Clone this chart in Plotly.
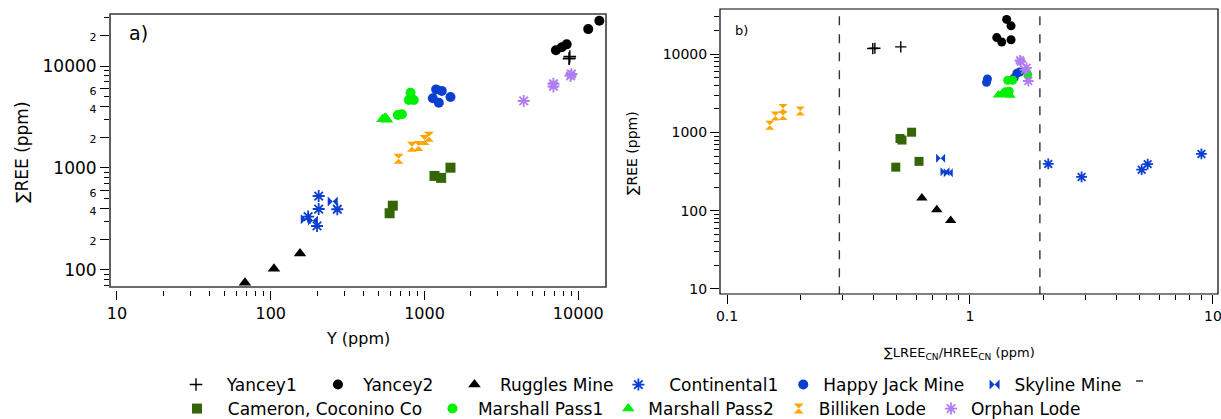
import plotly.graph_objects as go

# ---------------- data ----------------
# Y (ppm), sum REE (ppm), LREE_CN/HREE_CN ratio
yancey1_Y = [8700, 8800, 8750]
yancey1_REE = [11800, 12400, 11900]
yancey1_ratio = [0.398, 0.519, 0.406]

yancey2_Y = [13700, 11600, 8400, 7800, 7150]
yancey2_REE = [27800, 23000, 16300, 15300, 14300]
yancey2_ratio = [1.416, 1.476, 1.289, 1.476, 1.351]

ruggles_Y = [68, 105, 155]
ruggles_REE = [75, 103, 145]
ruggles_ratio = [0.833, 0.730, 0.634]

continental_Y = [205, 205, 271, 200, 175]
continental_REE = [531, 396, 394, 270, 334]
continental_ratio = [8.97, 2.10, 5.39, 2.88, 5.09]

happyjack_Y = [1190, 1295, 1132, 1239, 1475]
happyjack_REE = [5900, 5700, 4820, 4370, 4970]
happyjack_ratio = [1.60, 1.56, 1.18, 1.17, 1.52]

skyline_Y = [253, 169, 188]
skyline_REE = [468, 315, 305]
skyline_ratio = [0.757, 0.789, 0.814]

cameron_Y = [622, 593, 1161, 1283, 1475]
cameron_REE = [427, 360, 836, 800, 1007]
cameron_ratio = [0.617, 0.495, 0.515, 0.525, 0.575]

marshall1_Y = [811, 791, 852, 671, 713]
marshall1_REE = [5470, 4640, 4640, 3310, 3360]
marshall1_ratio = [1.73, 1.43, 1.50, 1.40, 1.45]

marshall2_Y = [533, 550, 560, 569]
marshall2_REE = [3000, 3070, 3100, 2980]
marshall2_ratio = [1.31, 1.35, 1.39, 1.46]

billiken_Y = [678, 828, 915, 1000, 1067]
billiken_REE = [1233, 1618, 1644, 1884, 2029]
billiken_ratio = [0.150, 0.158, 0.170, 0.200, 0.170]

orphan_Y = [4415, 6890, 6890, 8900, 9020]
orphan_REE = [4540, 6300, 6700, 8000, 8350]
orphan_ratio = [1.738, 1.683, 1.711, 1.620, 1.607]

boundary_ratios = [0.29, 1.94]

FONT = "DejaVu Sans"
BLUE = "#0a3fd0"
NB = "\u00a0"

# (name, Y, REE, ratio, marker, size, legend row, leading pad, trailing pad)
series = [
    ("Yancey1", yancey1_Y, yancey1_REE, yancey1_ratio,
     dict(symbol="cross-thin", color="black", line=dict(color="black", width=1.4)), 9, "legend", 2, 3),
    ("Yancey2", yancey2_Y, yancey2_REE, yancey2_ratio,
     dict(symbol="circle", color="black"), 10, "legend", 1, 3),
    ("Ruggles Mine", ruggles_Y, ruggles_REE, ruggles_ratio,
     dict(symbol="triangle-up", color="black"), 11, "legend", 1, 0),
    ("Continental1", continental_Y, continental_REE, continental_ratio,
     dict(symbol="asterisk", color=BLUE, line=dict(color=BLUE, width=1.8)), 10, "legend", 2, 0),
    ("Happy Jack Mine", happyjack_Y, happyjack_REE, happyjack_ratio,
     dict(symbol="circle", color=BLUE), 10, "legend", 0, 1),
    ("Skyline Mine", skyline_Y, skyline_REE, skyline_ratio,
     dict(symbol="bowtie", color=BLUE), 10, "legend", 0, 0),
    ("Cameron, Coconino Co", cameron_Y, cameron_REE, cameron_ratio,
     dict(symbol="square", color="#346608"), 10, "legend2", 2, 1),
    ("Marshall Pass1", marshall1_Y, marshall1_REE, marshall1_ratio,
     dict(symbol="circle", color="#00f000"), 10, "legend2", 1, 0),
    ("Marshall Pass2", marshall2_Y, marshall2_REE, marshall2_ratio,
     dict(symbol="triangle-up", color="#00f000"), 11, "legend2", 0, 0),
    ("Billiken Lode", billiken_Y, billiken_REE, billiken_ratio,
     dict(symbol="hourglass", color="#ffa500"), 10, "legend2", 0, 0),
    ("Orphan Lode", orphan_Y, orphan_REE, orphan_ratio,
     dict(symbol="asterisk", color="#b07ef0", line=dict(color="#b07ef0", width=1.8)), 10, "legend2", 0, 0),
]

fig = go.Figure()
for name, xv, yv, rv, mk, size, lg, lead, trail in series:
    m = dict(mk)
    m["size"] = size
    fig.add_trace(go.Scatter(x=xv, y=yv, mode="markers", name=NB * lead + name + NB * trail,
                             marker=m, legendgroup=name, legend=lg,
                             xaxis="x", yaxis="y", cliponaxis=False))
    m2 = dict(mk)
    m2["size"] = size - 1
    fig.add_trace(go.Scatter(x=rv, y=yv, mode="markers", name=name, marker=m2,
                             legendgroup=name, showlegend=False,
                             xaxis="x2", yaxis="y2"))

for r in boundary_ratios:
    fig.add_trace(go.Scatter(x=[r, r], y=[1, 1e6], mode="lines", showlegend=False,
                             line=dict(color="#333", width=1.4, dash="dash"),
                             xaxis="x2", yaxis="y2", hoverinfo="skip"))

W, H = 1221, 419
def px_x(p):
    return p / W
def px_y(p):
    return (H - p) / H

def minor_vals(decades, digits=range(2, 10)):
    out = []
    for d in decades:
        for k in digits:
            out.append(k * d)
    return out

small = lambda t: f'<span style="font-size:11px">{t}</span>'

ya_major = [100, 200, 400, 600, 1000, 2000, 4000, 6000, 10000, 20000]
ya_text = ["100", small("2"), small("4"), small("6"), "1000", small("2"), small("4"), small("6"), "10000", small("2")]
ya_minor = [70, 80, 90, 300, 500, 700, 800, 900, 3000, 5000, 7000, 8000, 9000, 30000]

tick_common = dict(type="log", ticks="outside", tickcolor="black", tickwidth=1,
                   showgrid=False, zeroline=False, showline=False,
                   ticklabeloverflow="allow")

LEG_FONT = dict(size=17, family=FONT)

fig.update_layout(
    width=W, height=H,
    margin=dict(l=0, r=0, t=0, b=0, autoexpand=False),
    paper_bgcolor="white", plot_bgcolor="white",
    font=dict(family=FONT, color="black"),
    xaxis=dict(**tick_common, domain=[px_x(110), px_x(606)], range=[0.955, 4.18],
               anchor="free", position=px_y(290),
               tickvals=[10, 100, 1000, 10000], ticktext=["10", "100", "1000", "10000"],
               ticklen=9, tickfont=dict(size=16),
               minor=dict(tickvals=minor_vals([10, 100, 1000]), ticklen=5, ticks="outside",
                          tickcolor="black", showgrid=False)),
    yaxis=dict(**tick_common, domain=[px_y(287), px_y(14)], range=[1.833, 4.51], anchor="x",
               tickvals=ya_major, ticktext=ya_text, ticklen=9, tickfont=dict(size=17),
               minor=dict(tickvals=ya_minor, ticklen=5, ticks="outside",
                          tickcolor="black", showgrid=False)),
    xaxis2=dict(**tick_common, domain=[px_x(720), px_x(1218)], range=[-1.029, 1.021], anchor="y2",
                tickvals=[0.1, 1, 10], ticktext=["0.1", "1", "10"], ticklen=9,
                tickfont=dict(size=14),
                minor=dict(tickvals=minor_vals([0.1, 1]), ticklen=5, ticks="outside",
                           tickcolor="black", showgrid=False)),
    yaxis2=dict(**tick_common, domain=[px_y(294), px_y(9)], range=[0.936, 4.577], anchor="x2",
                tickvals=[10, 100, 1000, 10000], ticktext=["10", "100", "1000", "10000"],
                ticklen=9, tickfont=dict(size=14),
                minor=dict(tickvals=minor_vals([10, 100, 1000]) + [20000, 30000], ticklen=5,
                           ticks="outside", tickcolor="black", showgrid=False)),
    legend=dict(orientation="h", x=px_x(176), xanchor="left", y=px_y(385), yanchor="middle",
                font=LEG_FONT, bgcolor="rgba(0,0,0,0)", borderwidth=0, tracegroupgap=0),
    legend2=dict(orientation="h", x=px_x(177), xanchor="left", y=px_y(409), yanchor="middle",
                 font=LEG_FONT, bgcolor="rgba(0,0,0,0)", borderwidth=0, tracegroupgap=0),
    shapes=[
        dict(type="rect", xref="x domain", yref="y domain", x0=0, x1=1, y0=0, y1=1,
             line=dict(color="#3a3a3a", width=1.6), layer="above"),
        dict(type="rect", xref="x2 domain", yref="y2 domain", x0=0, x1=1, y0=0, y1=1,
             line=dict(color="black", width=1.2), layer="above"),
        dict(type="line", xref="paper", yref="paper", x0=px_x(1136), x1=px_x(1143),
             y0=px_y(381), y1=px_y(381), line=dict(color="black", width=1.2)),
    ],
    annotations=[
        dict(text="a)", x=px_x(127), y=px_y(33), xref="paper", yref="paper", showarrow=False,
             xanchor="left", yanchor="middle", font=dict(size=19)),
        dict(text="b)", x=px_x(733), y=px_y(30), xref="paper", yref="paper", showarrow=False,
             xanchor="left", yanchor="middle", font=dict(size=13)),
        dict(text="∑REE (ppm)", x=px_x(22), y=px_y(152), xref="paper", yref="paper",
             showarrow=False, textangle=-90, xanchor="center", yanchor="middle",
             font=dict(size=17)),
        dict(text="Y (ppm)", x=px_x(358), y=px_y(338), xref="paper", yref="paper",
             showarrow=False, xanchor="center", yanchor="middle", font=dict(size=16)),
        dict(text="∑REE (ppm)", x=px_x(632), y=px_y(153), xref="paper", yref="paper",
             showarrow=False, textangle=-90, xanchor="center", yanchor="middle",
             font=dict(size=14)),
        dict(text="∑LREE<sub>CN</sub>/HREE<sub>CN</sub> (ppm)", x=px_x(960), y=px_y(353),
             xref="paper", yref="paper", showarrow=False, xanchor="center", yanchor="middle",
             font=dict(size=13)),
    ],
)

fig.write_html("out.html")
